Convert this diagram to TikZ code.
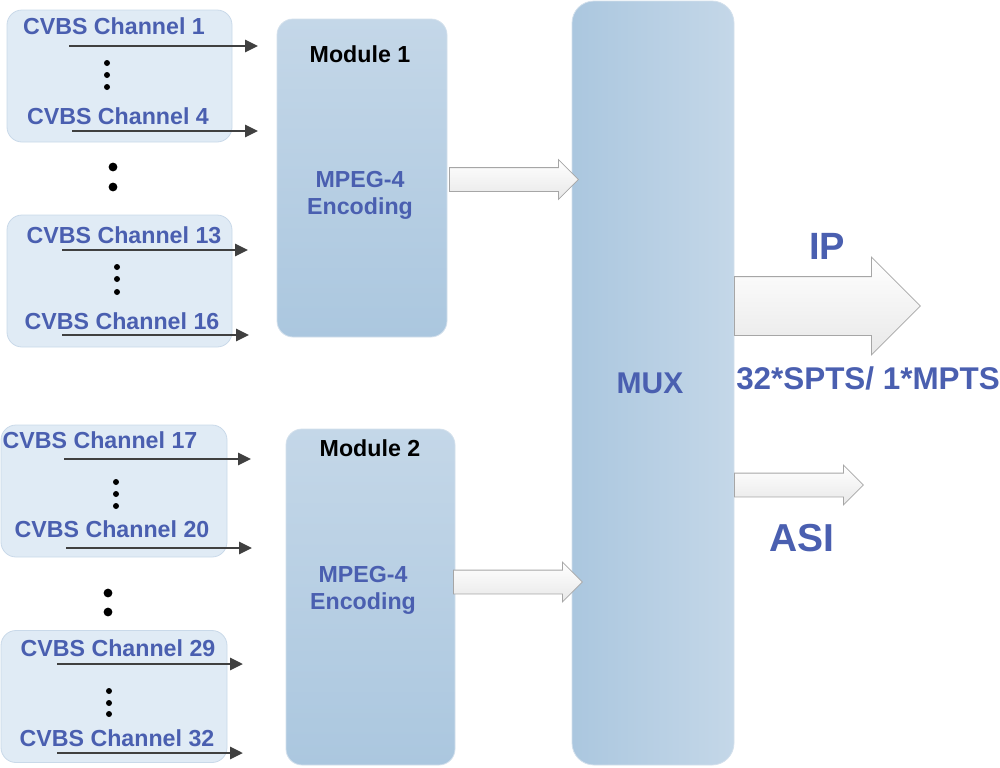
\documentclass[tikz,border=0pt]{standalone}
\usepackage{fontspec}
\setmainfont{Liberation Sans}
\usetikzlibrary{shapes}
\usetikzlibrary{shapes.arrows}
\usetikzlibrary{arrows.meta}
\definecolor{chanblue}{HTML}{4A5FB0}
\definecolor{grpfill}{HTML}{E0EBF5}
\definecolor{grpline}{HTML}{C9D9E9}
\definecolor{modtop}{HTML}{C4D7E8}
\definecolor{modbot}{HTML}{ABC7DF}
\definecolor{modline}{HTML}{D3E0EC}
\definecolor{feedgray}{HTML}{404040}

\begin{document}
\begin{tikzpicture}[x=0.5pt,y=-0.5pt,
	grp/.style={draw=grpline,fill=grpfill,rounded corners=7.5pt,inner sep=0pt},
	module/.style={draw=modline,top color=modtop,bottom color=modbot,rounded corners=8pt,inner sep=0pt},
	mux/.style={draw=modline,left color=modbot,right color=modtop,rounded corners=11pt,inner sep=0pt,minimum width=81pt,minimum height=382pt},
	chan/.style={text=chanblue,font=\bfseries\fontsize{11.6}{13.5}\selectfont,inner sep=0pt},
	title/.style={text=black,font=\bfseries\fontsize{11.6}{13.5}\selectfont,inner sep=0pt},
	enc/.style={chan,align=center},
	feed/.style={draw=feedgray,line width=1.4pt,-{Triangle[length=6.5pt,width=6pt]}},
	fat/.style={single arrow,anchor=tail,draw=black!35,top color=white,bottom color=black!9,shape border rotate=0,inner sep=5.75pt,single arrow head extend=4pt,minimum height=64.5pt},
	bigdot/.style={fill=black},
	]
	\useasboundingbox (0,0) rectangle (1000,767);
	\node[grp,minimum width=112.5pt,minimum height=66pt] (grpa) at (119.5,76) {};
	\node[grp,minimum width=112.5pt,minimum height=66pt] (grpb) at (119.5,281) {};
	\node[grp,minimum width=113pt,minimum height=66pt] (grpc) at (114,491) {};
	\node[grp,minimum width=113pt,minimum height=66pt] (grpd) at (114,696.5) {};
	\node[module,minimum width=85pt,minimum height=159pt] (mod1) at (362,178) {};
	\node[module,minimum width=84.5pt,minimum height=168pt] (mod2) at (370.5,597) {};
	\node[mux] (mux) at (653,383) {};

	\node[chan] (ch1) at (114,26) {CVBS Channel 1};
	\node[chan] (ch4) at (118,116) {CVBS Channel 4};
	\node[chan] (ch13) at (124,235) {CVBS Channel 13};
	\node[chan] (ch16) at (122,321) {CVBS Channel 16};
	\node[chan] (ch17) at (100,440) {CVBS Channel 17};
	\node[chan] (ch20) at (112,529) {CVBS Channel 20};
	\node[chan] (ch29) at (118,648) {CVBS Channel 29};
	\node[chan] (ch32) at (117,738) {CVBS Channel 32};

	\coordinate (in1) at (69,46);   \coordinate (out1) at (258,46);
	\coordinate (in4) at (72,131);  \coordinate (out4) at (258,131);
	\coordinate (in13) at (62,250); \coordinate (out13) at (248,250);
	\coordinate (in16) at (62,335); \coordinate (out16) at (249,335);
	\coordinate (in17) at (64,459); \coordinate (out17) at (251,459);
	\coordinate (in20) at (66,548); \coordinate (out20) at (252,548);
	\coordinate (in29) at (57,664); \coordinate (out29) at (243,664);
	\coordinate (in32) at (57,753); \coordinate (out32) at (243,753);
	\draw[feed] (in1) -- (out1);
	\draw[feed] (in4) -- (out4);
	\draw[feed] (in13) -- (out13);
	\draw[feed] (in16) -- (out16);
	\draw[feed] (in17) -- (out17);
	\draw[feed] (in20) -- (out20);
	\draw[feed] (in29) -- (out29);
	\draw[feed] (in32) -- (out32);

	\fill (107,63) circle (1.5pt) (107,75) circle (1.5pt) (107,87) circle (1.5pt);
	\fill (117,267) circle (1.5pt) (117,279) circle (1.5pt) (117,292) circle (1.5pt);
	\fill (116,482) circle (1.5pt) (116,494) circle (1.5pt) (116,506) circle (1.5pt);
	\fill (109,691) circle (1.5pt) (109,703) circle (1.5pt) (109,714) circle (1.5pt);
	\fill[bigdot] (113,167) circle (2.2pt) (113,187) circle (2.2pt);
	\fill[bigdot] (108,593) circle (2.2pt) (108,612) circle (2.2pt);

	\node[title] (mt1) at (360,54) {Module 1};
	\node[enc] (enc1) at (360,195) {MPEG-4\\Encoding};
	\node[title] (mt2) at (370,448) {Module 2};
	\node[enc] (enc2) at (363,590) {MPEG-4\\Encoding};

	\node[fat] (arr1) at (449,179.5) {};
	\node[fat] (arr2) at (453,582) {};
	\node[fat,inner sep=14.5pt,single arrow head extend=9.75pt,minimum height=93pt] (arrip) at (734,306) {};
	\node[fat] (arrasi) at (734,485) {};

	\node[chan,font=\bfseries\fontsize{15}{18}\selectfont] (muxlbl) at (650,383) {MUX};
	\node[chan,font=\bfseries\fontsize{19}{22}\selectfont] (iplbl) at (827,246) {IP};
	\node[chan,font=\bfseries\fontsize{15.7}{18}\selectfont] (tslbl) at (868,378) {32*SPTS/ 1*MPTS};
	\node[chan,font=\bfseries\fontsize{19.5}{22}\selectfont] (asilbl) at (802,538) {ASI};
\end{tikzpicture}
\end{document}
